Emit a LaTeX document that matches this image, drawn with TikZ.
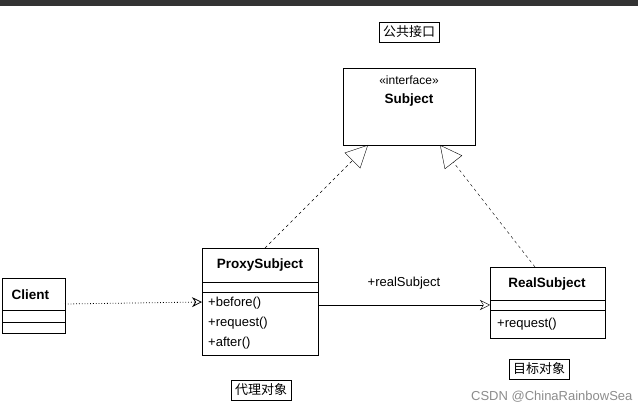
\documentclass[tikz,border=0pt]{standalone}
\usepackage{fontspec}
\setmainfont{Liberation Sans}
\newfontfamily\cjk{Noto Sans CJK SC}
\usetikzlibrary{arrows.meta}
\tikzset{
  umlbox/.style={draw, thick, fill=white},
  note/.style={draw, thick, font=\cjk\fontsize{13}{15}\selectfont, inner sep=4pt},
  realize/.style={dashed, -{Triangle[open, length=22pt, width=22pt]}},
  depend/.style={dotted, thick, -{Stealth[open, length=10pt, width=10pt]}},
  assoc/.style={-{Stealth[open, length=10pt, width=10pt]}},
  member/.style={anchor=west, font=\fontsize{13}{15}\selectfont, inner sep=0pt},
  title/.style={font=\bfseries\fontsize{13.5}{15}\selectfont}
}
\begin{document}
\begin{tikzpicture}[x=1pt, y=-1pt]
	\useasboundingbox (0,0) rectangle (638,411);
	\fill[black!80] (0,0) rectangle (638,6);
	% notes
	\node [note] (pub) at (409,32) {公共接口};
	\node [note] (proxynote) at (261,390) {代理对象};
	\node [note] (realnote) at (539,369) {目标对象};
	% Subject
	\draw [umlbox] (343,68) rectangle (475,145);
	\node (stereo) at (409,80) {\fontsize{12}{14}\selectfont«interface»};
	\node [title] (subject) at (409,100) {Subject};
	\coordinate (subjL) at (368,145);
	\coordinate (subjR) at (440,145);
	% Client
	\draw [umlbox] (2,278) rectangle (65,333);
	\draw [thick] (2,310) -- (65,310) (2,322) -- (65,322);
	\node [title, anchor=west] (client) at (8,295) {Client};
	\coordinate (clientE) at (65,304);
	% ProxySubject
	\draw [umlbox] (202,248) rectangle (318,355);
	\draw [thick] (202,282) -- (318,282) (202,292) -- (318,292);
	\node [title] (proxy) at (260,265) {ProxySubject};
	\node [member] (pb) at (208,303) {+before()};
	\node [member] (pr) at (208,323) {+request()};
	\node [member] (pa) at (208,343) {+after()};
	\coordinate (proxyW) at (202,302);
	\coordinate (proxyE) at (318,305);
	\coordinate (proxyN) at (265,248);
	% RealSubject
	\draw [umlbox] (490,267) rectangle (605,338);
	\draw [thick] (490,300) -- (605,300) (490,310) -- (605,310);
	\node [title] (real) at (547,284) {RealSubject};
	\node [member] (rr) at (497,324) {+request()};
	\coordinate (realW) at (490,305);
	\coordinate (realN) at (535,267);
	% connectors
	\draw [realize] (proxyN) -- (subjL);
	\draw [realize] (realN) -- (subjR);
	\draw [depend] (clientE) -- (proxyW);
	\draw [assoc] (proxyE) -- node[above=12pt, font=\fontsize{13}{15}\selectfont] {+realSubject} (realW);
	\node [text=black!45, anchor=east, font=\fontsize{13}{15}\selectfont] (mark) at (636,397) {CSDN @ChinaRainbowSea};
\end{tikzpicture}
\end{document}
